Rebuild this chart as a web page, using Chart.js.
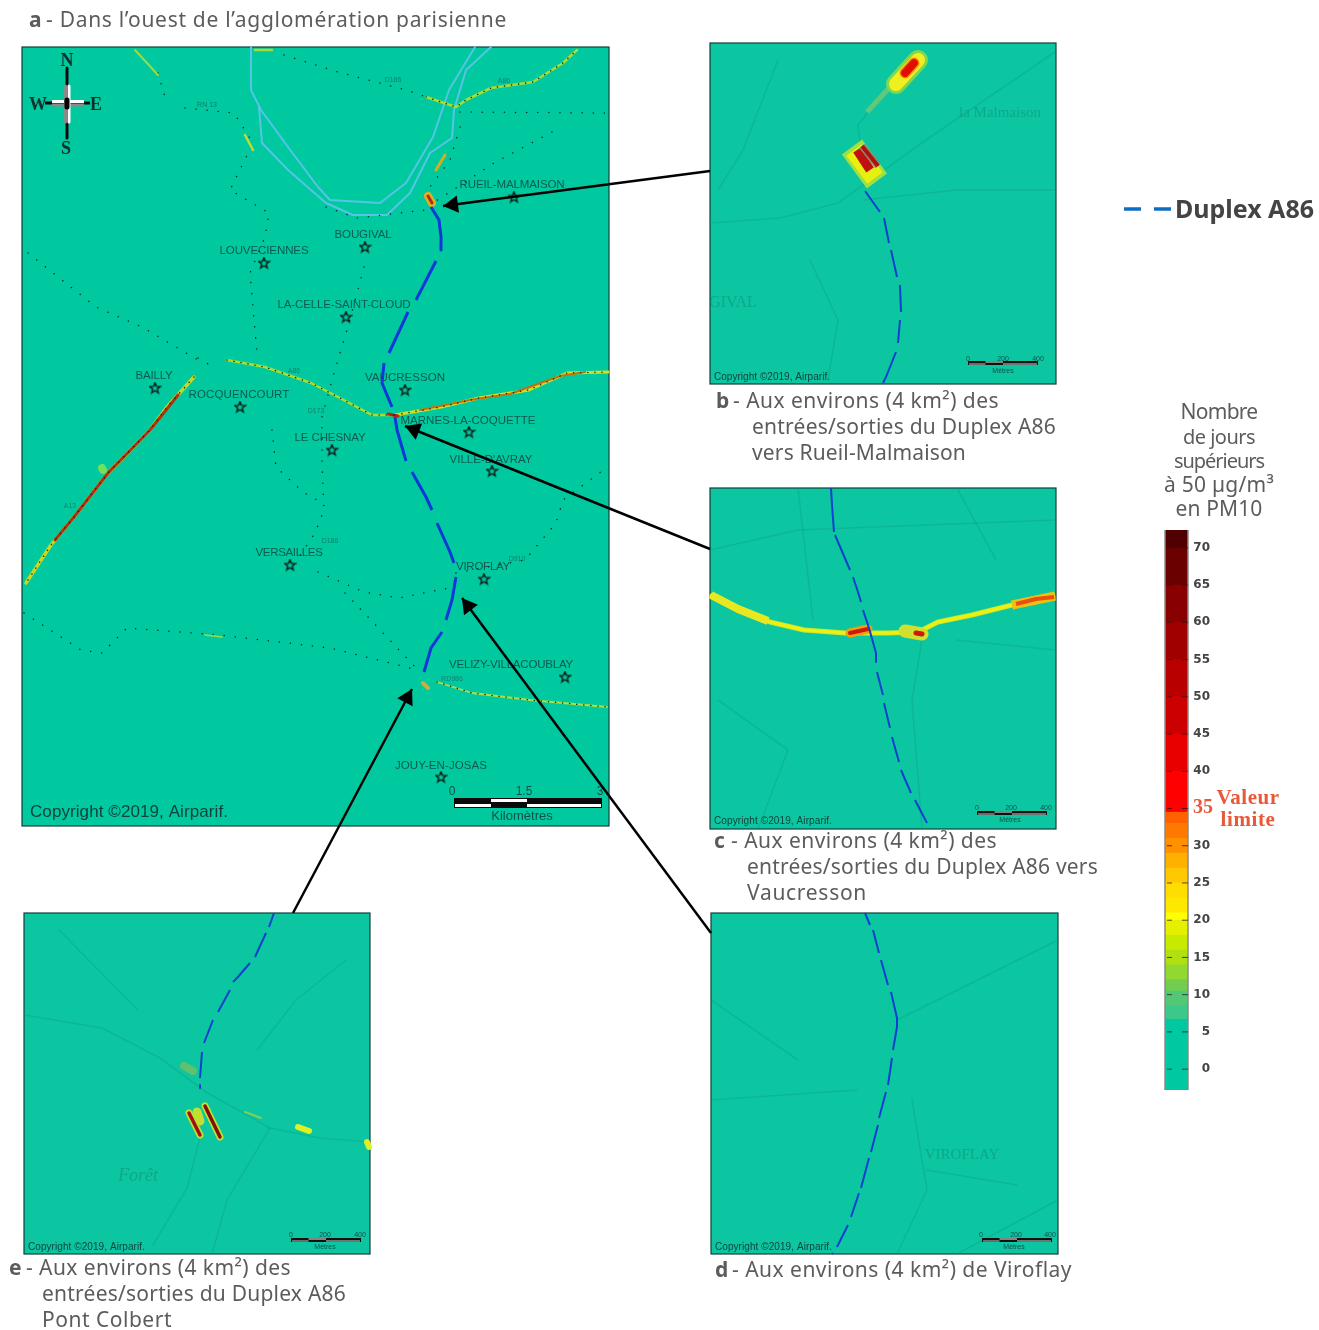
<!DOCTYPE html>
<html lang="fr">
<head>
<meta charset="utf-8">
<title>Duplex A86 - PM10</title>
<script src="https://cdn.jsdelivr.net/npm/chart.js@4/dist/chart.umd.min.js"></script>
<style>
  html, body { margin: 0; padding: 0; background: #fff; overflow: hidden; }
  #map__chart { position: absolute; left: 0; top: 0; }
  #scale__chart { position: absolute; left: 1150px; top: 500px; }
</style>
</head>
<body>
<canvas id="map__chart" width="1319" height="1330"></canvas>
<canvas id="scale__chart" width="160" height="620"></canvas>
<script>
// towns of panel a: name, label centre x, label y, label width, star x, star y
const townNames = ['RUEIL-MALMAISON', 'BOUGIVAL', 'LOUVECIENNES', 'LA-CELLE-SAINT-CLOUD', 'BAILLY', 'ROCQUENCOURT', 'VAUCRESSON', 'MARNES-LA-COQUETTE', 'LE CHESNAY', 'VILLE-D\'AVRAY', 'VERSAILLES', 'VIROFLAY', 'VELIZY-VILLACOUBLAY', 'JOUY-EN-JOSAS']
const townLabelX = [512, 363, 264, 344, 154, 239, 405, 468, 330, 491, 289, 483, 511, 441]
const townLabelY = [184, 234, 250, 304, 375, 394, 377, 420, 437, 459, 552, 566, 664, 765]
const townLabelW = [105, 57, 89, 133, 37, 101, 80, 135, 71, 83, 67, 54, 124, 92]
const townStarX = [514, 365, 264, 346, 155, 240, 405, 469, 332, 492, 290, 484, 565, 441]
const townStarY = [197, 247, 263, 317, 388, 407, 390, 432, 450, 471, 565, 579, 677, 777]

// duplex route per panel, null = gap in the tunnel line
const routeA = [[431,207],[439,220],[441,237],[441,250],null,[436,261],[416,300],null,[408,312],[389,353],null,[384,363],[382,383],[392,407],null,[395,417],[397,430],[406,461],null,[412,472],[426,497],[432,510],null,[437,523],[450,552],[454,563],null,[456,577],[452,600],[446,620],null,[442,632],[431,648],[424,672]]
const routeB = [[865,191],[880,212],null,[884,218],[889,243],null,[891,250],[897,277],null,[900,285],[901,312],null,[900,320],[898,343],null,[896,352],[886,377],[883,383]]
const routeC = [[831,488],[832,505],[834,532],null,[835,535],[850,570],null,[853,577],[858,592],[861,602],null,[863,610],[869,628],[876,653],[876,662],null,[877,672],[883,695],null,[884,703],[890,728],null,[892,737],[899,762],null,[901,770],[911,793],null,[915,800],[927,823]]
const routeD = [[865,913],[870,925],null,[873,930],[879,953],null,[881,960],[888,985],null,[891,992],[897,1018],[897,1027],[893,1050],null,[892,1058],[888,1085],null,[886,1092],[879,1118],null,[878,1125],[871,1152],null,[869,1158],[861,1188],null,[859,1193],[851,1217],null,[848,1225],[837,1247],null,[833,1253],[832,1254]]
const routeE = [[274,913],[269,927],null,[266,933],[255,957],null,[250,963],[237,978],[233,982],null,[230,990],[218,1012],null,[213,1020],[204,1043],null,[202,1052],[200,1078],null,[200,1085],[200,1088]]

// Seine arms
const seineOne = [[251,47],[251,90],[261,110],[288,147],[318,187],[330,200],[380,203],[406,183],[433,137],[449,90],[475,47]]
const seineTwo = [[259,107],[262,143],[288,170],[326,203],[353,215],[387,215],[410,193],[430,153],[452,138],[454,110],[466,70],[491,47]]

// polluted roads in panel a
const roadA13 = [[194,377],[167,407],[150,430],[108,473],[74,517],[51,545],[26,583]]
const roadA86West = [[227,360],[265,367],[311,383],[338,397],[372,415],[395,415]]
const roadA86East = [[395,415],[441,407],[479,398],[529,390],[567,373],[608,372]]
const roadA86North = [[426,97],[456,107],[466,100],[491,88],[533,82],[563,63],[577,50]]
const roadSouth = [[437,682],[472,693],[530,700],[607,707]]
const roadSmallOne = [[135,50],[158,75]]
const roadSmallTwo = [[245,135],[253,150]]
const roadSmallThree = [[436,170],[445,155]]
const roadSmallFour = [[205,635],[222,637]]
const roadSmallFive = [[255,50],[272,50]]
const hotRueil = [[428,196],[432,203]]
const hotBoisBailly = [[102,468],[103,470]]
const hotPontColbert = [[423,683],[428,688]]
const hotA13 = [[178,395],[150,430],[108,473],[74,517],[55,540]]
const hotA86East = [[420,410],[470,400],[510,394],[560,376],[585,372]]
const hotMarnes = [[388,414],[398,416]]

// small dotted roads of panel a
const dottedRoads = [
  [[284,55],[338,72],[406,90],[456,107]],
  [[460,112],[605,113]],
  [[185,108],[234,113],[253,143],[230,190],[269,213],[265,237],[250,273],[253,307],[257,353]],
  [[158,73],[165,97]],
  [[28,253],[96,307],[142,327],[198,360]],
  [[364,267],[357,293],[347,330],[334,373],[322,417],[322,463],[324,510],[315,533],[295,563]],
  [[460,127],[450,160],[430,187]],
  [[552,132],[494,163],[433,203]],
  [[326,207],[357,218],[426,210]],
  [[272,430],[276,467],[303,492],[322,503]],
  [[318,572],[364,592],[399,598],[449,588]],
  [[345,593],[368,617],[418,670]],
  [[456,573],[525,560],[556,523],[563,500],[606,468]],
  [[24,613],[81,650],[102,653],[127,628],[219,635],[330,648],[418,670]],
  [[198,358],[215,368]]
]

// faint streets under the zoomed panels
const faintB = [[[710,223],[780,218],[838,203],[926,140],[1055,52]], [[860,143],[858,125],[870,110]], [[778,60],[743,150],[718,190]], [[863,200],[956,190],[1055,190]], [[828,380],[838,320],[810,260]]]
const faintC = [[[710,550],[798,530],[1055,520]], [[922,640],[912,700],[922,829]], [[957,640],[1055,650]], [[758,829],[788,750],[718,700]], [[798,488],[813,620]], [[957,488],[996,560]]]
const faintD = [[[912,1100],[927,1190],[897,1254]], [[927,1170],[1017,1185]], [[711,1100],[857,1090]], [[897,1020],[1058,940]], [[711,1000],[798,1060]], [[1058,1200],[957,1254]]]
const faintE = [[[25,1015],[102,1028],[160,1058],[206,1092],[270,1128],[320,1138],[369,1142]], [[200,1138],[187,1188],[153,1245]], [[59,930],[138,1010]], [[270,1128],[227,1200],[212,1254]], [[257,1050],[296,1000],[346,960]]]

// hot spots of panels b, c and e, from coolest layer to hottest
const plumeTail = [[867,112],[890,87]]
const plumeHead = [[896,84],[918,60]]
const plumeCore = [[905,73],[914,63]]
const blockB = [[852,147],[877,181]]
const blockInner = [[854,150],[875,178]]
const blockCore = [[857,150],[870,170]]
const blockStrip = [[862,146],[878,166]]
const roadC = [[710,595],[738,610],[770,622],[804,630],[845,633],[888,633],[918,632],[938,622],[972,615],[1012,605],[1055,595]]
const roadCWest = [[711,595],[738,609],[768,621]]
const roadCEast = [[1012,605],[1055,596]]
const hotCEast = [[1016,604],[1036,599],[1054,597]]
const hotCOne = [[850,633],[868,629]]
const hotCTwo = [[916,633],[922,634]]
const patchCTwo = [[905,631],[922,634]]
const ramp1E = [[189,1113],[200,1135]]
const ramp2E = [[205,1106],[220,1137]]
const patchE = [[197,1112],[200,1121]]
const patchE2 = [[184,1066],[193,1071]]
const patchE3 = [[298,1127],[309,1131]]
const patchE4 = [[367,1142],[369,1147]]
const trailE = [[245,1112],[261,1118]]

// leader arrows, box to map
const arrowB = [[710,171],[443,206]]
const arrowC = [[710,549],[405,426]]
const arrowD = [[711,933],[462,598]]
const arrowE = [[293,913],[412,689]]

// map panels: left, top, right, bottom
const panelA = [22, 47, 609, 826]
const panelB = [710, 43, 1056, 384]
const panelC = [710, 488, 1056, 829]
const panelD = [711, 913, 1058, 1254]
const panelE = [24, 913, 370, 1254]

// colour scale, days above 50 ug/m3
const scaleTicks = [0, 5, 10, 15, 20, 25, 30, 40, 45, 50, 55, 60, 65, 70]
const scaleEdges = [-2.8, 6.7, 8.5, 10.5, 12, 14, 16, 18, 20, 21, 23, 25, 27, 29, 31, 33, 34.5, 40, 45, 50, 55, 60, 65, 70, 72.4]
const scaleColors = ['#00c8a0', '#3cc88a', '#52c874', '#72cc4e', '#92d82e', '#b0e010', '#c8ea00', '#e5f000', '#ffff00', '#ffe800', '#ffdd00', '#ffc800', '#ffb000', '#ff9000', '#ff7800', '#ff6000', '#ff0000', '#e80000', '#cc0000', '#b80000', '#a00000', '#880000', '#6a0000', '#500000']

const captionFont = '"Noto Sans", sans-serif'
const serifFont = '"Liberation Serif", serif'
const arialFont = '"Liberation Sans", Arial, sans-serif'

function toPoints(list) {
    return list.map(p => p ? { x: p[0], y: p[1] } : { x: null, y: null })
}

const datasets = []

function addLine(list, color, width, extra) {
    datasets.push(Object.assign({
        data: toPoints(list),
        showLine: true,
        borderColor: color,
        borderWidth: width,
        borderCapStyle: 'round',
        borderJoinStyle: 'round',
        pointRadius: 0,
        order: -datasets.length
    }, extra))
}

function addDots(list) {
    addLine(list, '#06302a', 1.5, { borderDash: [0.1, 11] })
}

function addRoadDots(list) {
    addLine(list, '#06302a', 1.5, { borderDash: [0.1, 7] })
}

function addArrow(list) {
    const [from, tip] = list
    const len = Math.hypot(tip[0] - from[0], tip[1] - from[1])
    const ux = (tip[0] - from[0]) / len
    const uy = (tip[1] - from[1]) / len
    addLine(list, '#000', 2.5, { borderCapStyle: 'butt' })
    datasets.push({
        data: toPoints([[tip[0] - ux * 10, tip[1] - uy * 10]]),
        pointStyle: 'triangle',
        pointRadius: 10,
        pointRotation: Math.atan2(ux, -uy) * 180 / Math.PI,
        backgroundColor: '#000',
        borderWidth: 0,
        order: -datasets.length
    })
}

function addScaleBar(x0, x1, y) {
    const third = (x1 - x0) / 4
    addLine([[x0, y], [x1, y]], '#111', 4, { borderCapStyle: 'butt' })
    addLine([[x0 + 1, y + 1], [x0 + third, y + 1]], '#8a9a96', 1.4, { borderCapStyle: 'butt' })
    addLine([[x0 + third, y - 1], [x0 + third * 2, y - 1]], '#b0b8b4', 1.4, { borderCapStyle: 'butt' })
    addLine([[x0 + third * 2, y + 1], [x1 - 1, y + 1]], '#8a9a96', 1.4, { borderCapStyle: 'butt' })
}

// hollow five point star for the towns
function makeStar() {
    const c = document.createElement('canvas')
    c.width = 13
    c.height = 13
    const g = c.getContext('2d')
    g.beginPath()
    for (let i = 0; i < 10; i++) {
        const r = i % 2 ? 2.4 : 5.6
        const a = -Math.PI / 2 + i * Math.PI / 5
        g.lineTo(6.5 + r * Math.cos(a), 6.8 + r * Math.sin(a))
    }
    g.closePath()
    g.strokeStyle = '#111'
    g.lineWidth = 1.3
    g.stroke()
    return c
}

// faint streets first so the rest stays above
faintB.concat(faintC, faintD, faintE).forEach(r => addLine(r, 'rgba(10,150,125,0.3)', 1.6))

addLine(seineOne, '#55c4e6', 2)
addLine(seineTwo, '#55c4e6', 2)
dottedRoads.forEach(addDots)

// roads with exceedances
addLine(roadA13, '#c8d820', 3.5)
addLine(roadA86West, '#a8dc30', 2.5)
addLine(roadA86East, '#d8dc20', 3)
addLine(roadA86North, '#a8dc30', 2.5)
addLine(roadSouth, '#b0e040', 1.8)
addLine(roadSmallOne, '#9cdc40', 2)
addLine(roadSmallTwo, '#c0dc30', 2.5)
addLine(roadSmallThree, '#d0b020', 3)
addLine(roadSmallFour, '#9cdc40', 1.5)
addLine(roadSmallFive, '#b0d830', 2.5)
addLine(hotA13, '#b03010', 3)
addLine(hotA86East, '#c07010', 2)
addLine(hotMarnes, '#c02010', 3)
addLine(hotBoisBailly, '#70e060', 8)
addLine(hotRueil, '#e0b020', 8)
addLine(hotRueil, '#b03010', 3)
addLine(hotPontColbert, '#c8b040', 4)
addRoadDots(roadA86West)
addRoadDots(roadA86East)
addRoadDots(roadA86North)
addRoadDots(roadSouth)
addRoadDots(roadA13)

// panel b
addLine(plumeTail, '#60c878', 5, { borderCapStyle: 'butt' })
addLine(plumeHead, '#80d850', 20)
addLine(plumeHead, '#f0f020', 14)
addLine(plumeCore, '#ff9000', 11)
addLine(plumeCore, '#e01000', 8)
addLine(blockB, '#a0e040', 25, { borderCapStyle: 'butt' })
addLine(blockInner, '#e8f010', 19, { borderCapStyle: 'butt' })
addLine(blockCore, '#c01010', 9, { borderCapStyle: 'butt' })
addLine(blockStrip, '#8a8a70', 7, { borderCapStyle: 'butt' })
addLine(blockStrip, '#b01010', 4, { borderCapStyle: 'butt' })

// panel c
addLine(roadC, '#c8e830', 5, { borderCapStyle: 'butt' })
addLine(roadC, '#f0f010', 3, { borderCapStyle: 'butt' })
addLine(roadCWest, '#e8e820', 8, { borderCapStyle: 'butt' })
addLine(roadCEast, '#f0c010', 9, { borderCapStyle: 'butt' })
addLine(hotCEast, '#e85010', 4, { borderCapStyle: 'butt' })
addLine(hotCOne, '#f0a010', 9)
addLine(hotCOne, '#d01808', 4)
addLine(patchCTwo, '#d0e030', 13)
addLine(hotCTwo, '#d01808', 5)

// panel e
addLine(trailE, '#80d050', 2)
addLine(patchE2, '#60c070', 8)
addLine(patchE, '#c0e030', 9)
addLine(patchE3, '#e0f020', 6)
addLine(patchE4, '#e0f020', 6)
addLine(ramp1E, '#c0e030', 7)
addLine(ramp2E, '#c0e030', 7)
addLine(ramp1E, '#a01010', 3.5)
addLine(ramp2E, '#801010', 3.5)

// duplex routes
addLine(routeA, '#1038d8', 3, { borderCapStyle: 'butt' })
addLine(routeB, '#1040d0', 2, { borderCapStyle: 'butt' })
addLine(routeC, '#1040d0', 2, { borderCapStyle: 'butt' })
addLine(routeD, '#1040d0', 2, { borderCapStyle: 'butt' })
addLine(routeE, '#1040d0', 2, { borderCapStyle: 'butt' })

// legend dashes
addLine([[1124, 209], [1141, 209]], '#0f6cc4', 3.5, { borderCapStyle: 'butt' })
addLine([[1154, 209], [1171, 209]], '#0f6cc4', 3.5, { borderCapStyle: 'butt' })

// town stars
datasets.push({
    data: townStarX.map((x, i) => ({ x: x, y: townStarY[i] })),
    pointStyle: makeStar(),
    pointRadius: 6,
    order: -datasets.length
})

// compass
addLine([[67, 68], [67, 138]], '#0a0a0a', 3, { borderCapStyle: 'butt' })
addLine([[45, 103], [90, 103]], '#0a0a0a', 3, { borderCapStyle: 'butt' })
addLine([[52, 105], [84, 105]], '#8a8a8a', 3, { borderCapStyle: 'butt' })
addLine([[52, 101.5], [84, 101.5]], '#ffffff', 3, { borderCapStyle: 'butt' })
addLine([[69, 86], [69, 122]], '#ffffff', 3, { borderCapStyle: 'butt' })
addLine([[65.5, 86], [65.5, 122]], '#8a8a8a', 3, { borderCapStyle: 'butt' })
addLine([[67, 100], [67, 107]], '#000000', 5, { borderCapStyle: 'butt' })

// scale bars
addLine([[454, 803], [602, 803]], '#0a0a0a', 10, { borderCapStyle: 'butt' })
addLine([[455, 805.5], [491, 805.5]], '#fff', 3, { borderCapStyle: 'butt' })
addLine([[491, 800.5], [527, 800.5]], '#fff', 3, { borderCapStyle: 'butt' })
addLine([[527, 805.5], [601, 805.5]], '#fff', 3, { borderCapStyle: 'butt' })
addScaleBar(968, 1038, 363)
addScaleBar(977, 1047, 813)
addScaleBar(982, 1052, 1240)
addScaleBar(291, 361, 1240)

addArrow(arrowB)
addArrow(arrowC)
addArrow(arrowD)
addArrow(arrowE)

const panelStyles = [
    [panelA, '#00c9a0'], [panelB, '#0cc6a2'], [panelC, '#0cc6a2'], [panelD, '#0cc6a2'], [panelE, '#0cc6a2']
]

// text, font, x, y, colour, align, width on the page
const plainTexts = [
    ['Copyright ©2019, Airparif.', '17px ' + arialFont, 30, 811, '#0e3f3a', 'left', 198],
    ['Copyright ©2019, Airparif.', '10px ' + arialFont, 714, 376, '#0e3f3a', 'left', 116],
    ['Copyright ©2019, Airparif.', '10px ' + arialFont, 714, 820, '#0e3f3a', 'left', 118],
    ['Copyright ©2019, Airparif.', '10px ' + arialFont, 715, 1246, '#0e3f3a', 'left', 117],
    ['Copyright ©2019, Airparif.', '10px ' + arialFont, 28, 1246, '#0e3f3a', 'left', 117],
    ['0', '12px ' + arialFont, 452, 791, '#0e4f48', 'center'],
    ['1.5', '12px ' + arialFont, 524, 791, '#0e4f48', 'center'],
    ['3', '12px ' + arialFont, 600, 791, '#0e4f48', 'center'],
    ['Kilomètres', '13px ' + arialFont, 522, 815, '#0e4f48', 'center'],
    ['0', '7px ' + arialFont, 968, 358, '#0e4f48', 'center'],
    ['200', '7px ' + arialFont, 1003, 358, '#0e4f48', 'center'],
    ['400', '7px ' + arialFont, 1038, 358, '#0e4f48', 'center'],
    ['Mètres', '7px ' + arialFont, 1003, 370, '#0e4f48', 'center'],
    ['0', '7px ' + arialFont, 977, 807, '#0e4f48', 'center'],
    ['200', '7px ' + arialFont, 1011, 807, '#0e4f48', 'center'],
    ['400', '7px ' + arialFont, 1046, 807, '#0e4f48', 'center'],
    ['Mètres', '7px ' + arialFont, 1010, 819, '#0e4f48', 'center'],
    ['0', '7px ' + arialFont, 981, 1234, '#0e4f48', 'center'],
    ['200', '7px ' + arialFont, 1016, 1234, '#0e4f48', 'center'],
    ['400', '7px ' + arialFont, 1050, 1234, '#0e4f48', 'center'],
    ['Mètres', '7px ' + arialFont, 1014, 1246, '#0e4f48', 'center'],
    ['0', '7px ' + arialFont, 291, 1234, '#0e4f48', 'center'],
    ['200', '7px ' + arialFont, 325, 1234, '#0e4f48', 'center'],
    ['400', '7px ' + arialFont, 360, 1234, '#0e4f48', 'center'],
    ['Mètres', '7px ' + arialFont, 325, 1246, '#0e4f48', 'center'],
    ['D186', '7px ' + arialFont, 393, 79, '#0c8070', 'center'],
    ['A86', '7px ' + arialFont, 504, 80, '#0c8070', 'center'],
    ['RN 13', '7px ' + arialFont, 207, 104, '#0c8070', 'center'],
    ['A86', '7px ' + arialFont, 294, 370, '#0c8070', 'center'],
    ['D173', '7px ' + arialFont, 316, 410, '#0c8070', 'center'],
    ['A13', '7px ' + arialFont, 70, 505, '#0c8070', 'center'],
    ['D186', '7px ' + arialFont, 330, 540, '#0c8070', 'center'],
    ['D910', '7px ' + arialFont, 517, 558, '#0c8070', 'center'],
    ['RD986', '7px ' + arialFont, 452, 678, '#0c8070', 'center'],
    ['N', 'bold 18px ' + serifFont, 67, 60, '#14302c', 'center'],
    ['S', 'bold 18px ' + serifFont, 66, 148, '#14302c', 'center'],
    ['W', 'bold 18px ' + serifFont, 38, 104, '#14302c', 'center'],
    ['E', 'bold 18px ' + serifFont, 96, 104, '#14302c', 'center'],
    ['GIVAL', '16px ' + serifFont, 733, 302, 'rgba(10,130,110,0.45)', 'center'],
    ['la Malmaison', '15px ' + serifFont, 1000, 112, 'rgba(10,130,110,0.45)', 'center'],
    ['VIROFLAY', '15px ' + serifFont, 962, 1154, 'rgba(10,130,110,0.45)', 'center'],
    ['Forêt', 'italic 18px ' + serifFont, 138, 1175, 'rgba(10,130,110,0.45)', 'center'],
    ['Nombre', '21px ' + captionFont, 1219, 412, '#5c5c5c', 'center', 77],
    ['de jours', '20px ' + captionFont, 1219, 437, '#5c5c5c', 'center', 72],
    ['supérieurs', '20px ' + captionFont, 1219, 461, '#5c5c5c', 'center', 90],
    ['à 50 µg/m³', '21px ' + captionFont, 1219, 485, '#5c5c5c', 'center', 110],
    ['en PM10', '21px ' + captionFont, 1219, 509, '#5c5c5c', 'center', 87],
    ['35', 'bold 20px ' + serifFont, 1203, 807, '#e8593a', 'center'],
    ['Valeur', 'bold 21px ' + serifFont, 1248, 798, '#e8593a', 'center', 63],
    ['limite', 'bold 21px ' + serifFont, 1248, 820, '#e8593a', 'center', 55],
    ['Duplex A86', 'bold 25px ' + captionFont, 1175, 210, '#444', 'left', 139]
]

// caption bits: bold letter, x of the letter, x of the rest, y, rest of the line, width
const captionLetters = ['a', 'b', 'c', 'd', 'e']
const captionLetterX = [29, 716, 714, 715, 9]
const captionRows = [
    [0, 46, 20, '- Dans l’ouest de l’agglomération parisienne', 461],
    [1, 733, 401, '- Aux environs (4 km²) des', 266],
    [1, 752, 427, 'entrées/sorties du Duplex A86', 304],
    [1, 752, 453, 'vers Rueil-Malmaison', 214],
    [2, 731, 841, '- Aux environs (4 km²) des', 266],
    [2, 747, 867, 'entrées/sorties du Duplex A86 vers', 351],
    [2, 747, 893, 'Vaucresson', 120],
    [3, 732, 1270, '- Aux environs (4 km²) de Viroflay', 340],
    [4, 26, 1268, '- Aux environs (4 km²) des', 265],
    [4, 42, 1294, 'entrées/sorties du Duplex A86', 304],
    [4, 42, 1320, 'Pont Colbert', 130]
]

// spread or squeeze a text so it takes the width it has on the page
function fitText(ctx, text, x, y, width) {
    ctx.letterSpacing = '0px'
    if (width) {
        const spare = width - ctx.measureText(text).width
        ctx.letterSpacing = (spare / text.length) + 'px'
    }
    ctx.fillText(text, x, y + 1)
    ctx.letterSpacing = '0px'
}

const mapPainter = {
    id: 'mapPainter',
    beforeDatasetsDraw(chart) {
        const ctx = chart.ctx
        const sx = chart.scales.x
        const sy = chart.scales.y
        const px = v => sx.getPixelForValue(v)
        const py = v => sy.getPixelForValue(v)
        ctx.save()
        panelStyles.forEach(([p, color]) => {
            ctx.fillStyle = color
            ctx.fillRect(px(p[0]), py(p[1]), px(p[2]) - px(p[0]), py(p[3]) - py(p[1]))
            ctx.strokeStyle = '#123f3a'
            ctx.lineWidth = 1.2
            ctx.strokeRect(px(p[0]), py(p[1]), px(p[2]) - px(p[0]), py(p[3]) - py(p[1]))
        })

        ctx.textBaseline = 'middle'

        ctx.font = '11.5px ' + arialFont
        ctx.fillStyle = '#0c5a50'
        ctx.textAlign = 'center'
        townNames.forEach((name, i) => fitText(ctx, name, px(townLabelX[i]), py(townLabelY[i]), townLabelW[i]))

        plainTexts.forEach(([text, font, x, y, color, align, width]) => {
            ctx.font = font
            ctx.fillStyle = color
            ctx.textAlign = align
            fitText(ctx, text, px(x), py(y), width)
        })

        ctx.fillStyle = '#5c5c5c'
        ctx.textAlign = 'left'
        captionLetters.forEach((letter, i) => {
            const row = captionRows.find(r => r[0] === i)
            ctx.font = 'bold 21px ' + captionFont
            ctx.fillText(letter, px(captionLetterX[i]), py(row[2]) + 1)
        })
        ctx.font = '21px ' + captionFont
        captionRows.forEach(([, x, y, text, width]) => fitText(ctx, text, px(x), py(y), width))
        ctx.restore()
    }
}

new Chart(document.getElementById('map__chart'), {
    type: 'scatter',
    data: { datasets: datasets },
    options: {
        responsive: false,
        animation: false,
        events: [],
        layout: { padding: 0, autoPadding: false },
        plugins: { legend: { display: false }, tooltip: { enabled: false } },
        scales: {
            x: { type: 'linear', min: 0, max: 1319, display: false },
            y: { type: 'linear', min: 0, max: 1330, reverse: true, display: false }
        }
    },
    plugins: [mapPainter]
})

// side lines and inner tick dashes of the colour bar
const scaleEdging = {
    id: 'scaleEdging',
    afterDatasetsDraw(chart) {
        const ctx = chart.ctx
        const a = chart.chartArea
        const y = chart.scales.y
        ctx.save()
        ctx.strokeStyle = '#8a8a8a'
        ctx.lineWidth = 1.5
        ctx.beginPath()
        ctx.moveTo(a.left, a.top)
        ctx.lineTo(a.left, a.bottom)
        ctx.moveTo(a.right, a.top)
        ctx.lineTo(a.right, a.bottom)
        ctx.stroke()
        ctx.strokeStyle = 'rgba(40,20,20,0.75)'
        ctx.lineWidth = 1
        ctx.beginPath()
        scaleTicks.concat([35]).forEach(v => {
            const p = y.getPixelForValue(v)
            ctx.moveTo(a.left + 2, p)
            ctx.lineTo(a.left + 7, p)
            ctx.moveTo(a.right - 6, p)
            ctx.lineTo(a.right, p)
        })
        ctx.stroke()
        ctx.restore()
    }
}

new Chart(document.getElementById('scale__chart'), {
    type: 'bar',
    data: {
        labels: ['PM10'],
        datasets: scaleColors.map((c, i) => ({
            data: [[scaleEdges[i], scaleEdges[i + 1]]],
            backgroundColor: c,
            grouped: false,
            barPercentage: 1,
            categoryPercentage: 1,
            borderWidth: 0
        }))
    },
    options: {
        responsive: false,
        animation: false,
        events: [],
        layout: { padding: { left: 15, right: 100, top: 30, bottom: 30 } },
        plugins: { legend: { display: false }, tooltip: { enabled: false } },
        scales: {
            x: { display: false },
            y: {
                position: 'right',
                min: -2.8,
                max: 72.4,
                grid: { display: false },
                border: { display: false },
                afterBuildTicks: ax => { ax.ticks = scaleTicks.map(v => ({ value: v })) },
                afterFit: ax => { ax.width = 22 },
                ticks: {
                    padding: 3,
                    crossAlign: 'far',
                    color: '#444',
                    font: { family: 'DejaVu Sans', size: 12, weight: 'bold' },
                    callback: v => String(v)
                }
            }
        }
    },
    plugins: [scaleEdging]
})
</script>
</body>
</html>
